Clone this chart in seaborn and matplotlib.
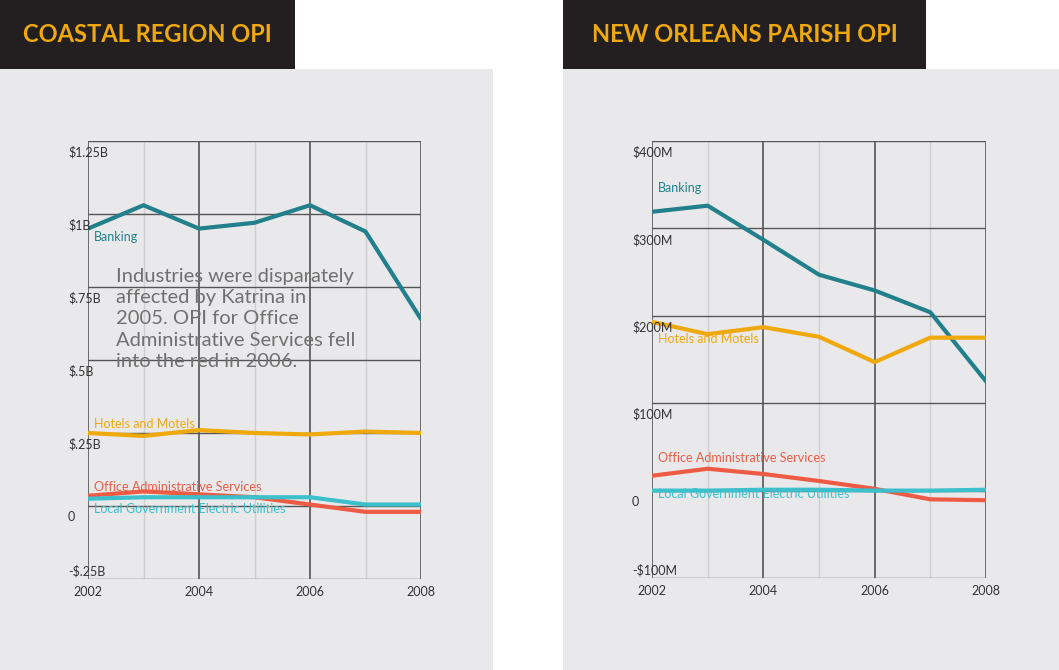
import pandas as pd
import matplotlib.pyplot as plt
import seaborn as sns

years = [2002, 2003, 2004, 2005, 2006, 2007, 2008]

coastal_banking = [0.95, 1.03, 0.95, 0.97, 1.03, 0.94, 0.64]
coastal_hotels = [0.25, 0.24, 0.26, 0.25, 0.245, 0.255, 0.25]
coastal_office = [0.035, 0.05, 0.04, 0.03, 0.005, -0.02, -0.02]
coastal_local = [0.025, 0.03, 0.03, 0.03, 0.03, 0.005, 0.005]

orleans_banking = [319, 326, 287, 247, 229, 204, 125]
orleans_hotels = [193, 179, 187, 176, 147, 175, 175]
orleans_office = [17, 25, 19, 11, 2, -10, -11]
orleans_local = [0, 0, 1, 1, 0, 0, 1]

coastal_ticks = [1.25, 1.0, 0.75, 0.5, 0.25, 0, -0.25]
coastal_tick_labels = ["$1.25B", "$1B", "$.75B", "$.5B", "$.25B", "0", "-$.25B"]
orleans_ticks = [400, 300, 200, 100, 0, -100]
orleans_tick_labels = ["$400M", "$300M", "$200M", "$100M", "0", "-$100M"]

series = ["Banking", "Hotels and Motels", "Office Administrative Services",
          "Local Government Electric Utilities"]
colors = {"Banking": "#22808c", "Hotels and Motels": "#f0a90d",
          "Office Administrative Services": "#ee5b45",
          "Local Government Electric Utilities": "#3cc0cc"}

W, H = 1059, 670
fig = plt.figure(figsize=(W / 100, H / 100), dpi=100)
fig.patch.set_facecolor("white")
sns.set_style("white")
plt.rcParams["font.family"] = ["Lato", "DejaVu Sans"]


def px(x0, y0, x1, y1):
    return [x0 / W, 1 - y1 / H, (x1 - x0) / W, (y1 - y0) / H]


def panel(title, bx0, bx1, tbox, ax_box, vals, ticks, labels, lbl_pos):
    bg = fig.add_axes(px(bx0, 69, bx1, 670))
    bg.set_facecolor("#e9e9eb")
    bg.set_xticks([]); bg.set_yticks([])
    for s in bg.spines.values():
        s.set_visible(False)
    tb = fig.add_axes(px(tbox[0], 0, tbox[1], 69))
    tb.set_facecolor("#231f20")
    tb.set_xticks([]); tb.set_yticks([])
    for s in tb.spines.values():
        s.set_visible(False)
    tb.text(0.5, 0.5, title, color="#f0a90d", fontsize=17, fontweight="bold",
            ha="center", va="center", transform=tb.transAxes)

    ax = fig.add_axes(px(*ax_box))
    ax.set_facecolor("none")
    df = pd.DataFrame({"year": years * 4,
                       "value": sum(vals, []),
                       "series": [s for s in series for _ in years]})
    for y in years:
        even = y % 2 == 0
        ax.axvline(y, color="#555555" if even else "#cfcfd2",
                   lw=1.2 if even else 1.0, zorder=0)
    for t in ticks:
        ax.axhline(t, color="#555555", lw=1.0, zorder=0)
    sns.lineplot(data=df, x="year", y="value", hue="series", palette=colors,
                 lw=3, ax=ax, legend=False, zorder=3)
    ax.set_xlim(2002, 2008)
    ax.set_ylim(ticks[-1], ticks[0])
    ax.set_xticks([]); ax.set_yticks([])
    ax.set_xlabel(""); ax.set_ylabel("")
    for s in ax.spines.values():
        s.set_visible(False)
    span = ticks[0] - ticks[-1]
    for i, (t, l) in enumerate(zip(ticks, labels)):
        last = i == len(ticks) - 1
        ax.text(-0.06, t + span * 0.004 if last else t - span * 0.012, l,
                transform=ax.get_yaxis_transform(), ha="left",
                va="bottom" if last else "top", fontsize=9, color="#333333")
    for y in [2002, 2004, 2006, 2008]:
        ax.text(y, -0.015, str(y), transform=ax.get_xaxis_transform(),
                ha="center", va="top", fontsize=9, color="#333333")
    for s, (yv) in zip(series, lbl_pos):
        ax.text(2002.1, yv, s, color=colors[s], fontsize=9, va="center")
    return ax


panel("COASTAL REGION OPI", 0, 493, (0, 295), (88, 141, 421, 579),
      [coastal_banking, coastal_hotels, coastal_office, coastal_local],
      coastal_ticks, coastal_tick_labels, [0.92, 0.28, 0.065, -0.01])
panel("NEW ORLEANS PARISH OPI", 563, 1059, (563, 926), (652, 141, 986, 578),
      [orleans_banking, orleans_hotels, orleans_office, orleans_local],
      orleans_ticks, orleans_tick_labels, [346, 174, 37, -4])

fig.text(116 / W, 1 - 268 / H,
         "Industries were disparately\naffected by Katrina in\n2005. OPI for Office\n"
         "Administrative Services fell\ninto the red in 2006.",
         fontsize=14.5, color="#707070", va="top", ha="left", linespacing=1.3,
         zorder=10)

fig.savefig("out.png", dpi=100)
